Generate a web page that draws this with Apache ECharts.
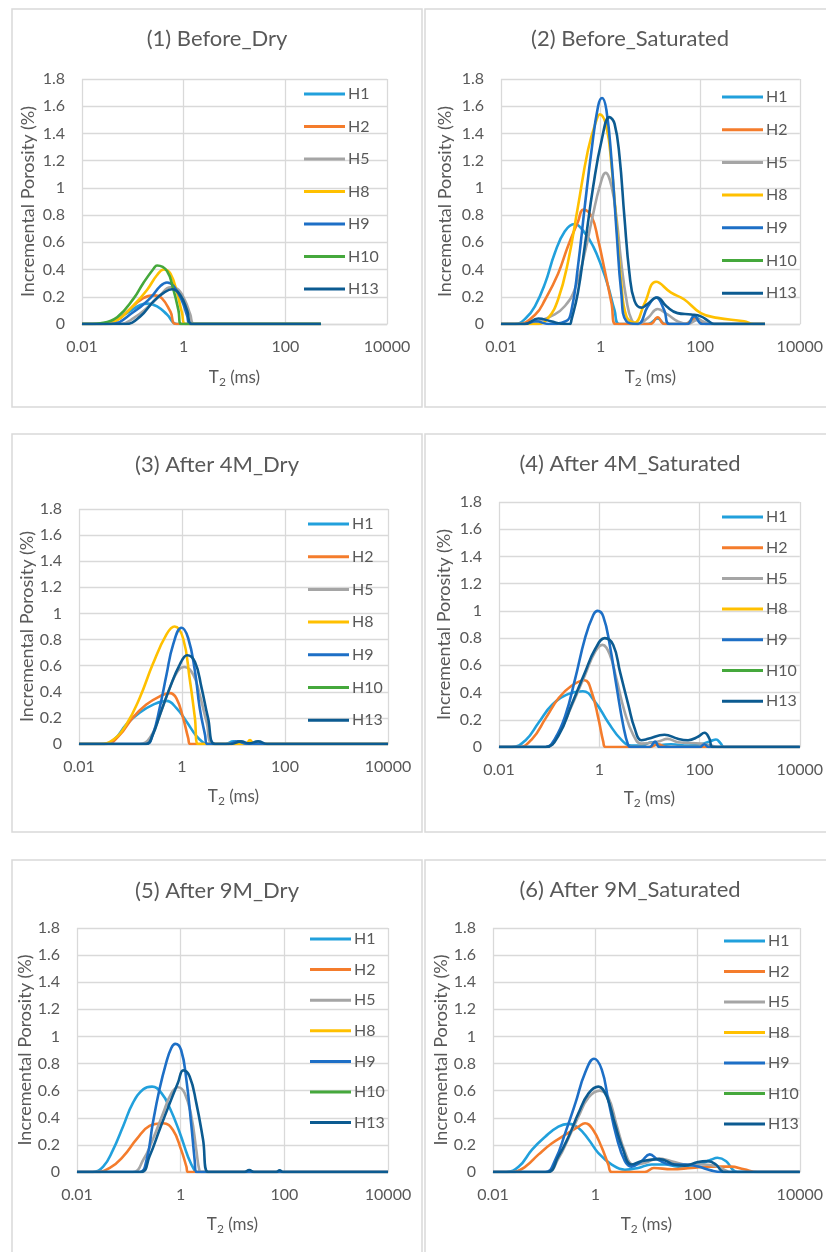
<!DOCTYPE html>
<html>
<head>
<meta charset="utf-8">
<script src="https://cdn.jsdelivr.net/npm/echarts@6/dist/echarts.min.js"></script>
<style>
  html, body { margin: 0; padding: 0; background: #ffffff; }
  #chart { width: 826px; height: 1252px; }
</style>
</head>
<body>
<div id="chart"></div>
<script>
// ---- T2 distributions: [T2 (ms), incremental porosity (%)] per sample and condition ----
const sampleNames = ['H1', 'H2', 'H5', 'H8', 'H9', 'H10', 'H13'];
const panelTitles = ['(1) Before_Dry', '(2) Before_Saturated', '(3) After 4M_Dry',
  '(4) After 4M_Saturated', '(5) After 9M_Dry', '(6) After 9M_Saturated'];
const xTickValues = [0.01, 1, 100, 10000];
const xTickLabels = ['0.01', '1', '100', '10000'];
const yTickLabels = ['0', '0.2', '0.4', '0.6', '0.8', '1', '1.2', '1.4', '1.6', '1.8'];

// (1) Before_Dry
const p1H1 = [[0.01,0],[0.023,0],[0.077,0.08],[0.14,0.14],[0.2,0.15],[0.3,0.13],[0.47,0.07],[0.74,0],[500,0]];
const p1H2 = [[0.01,0],[0.023,0],[0.05,0.03],[0.077,0.09],[0.16,0.19],[0.26,0.21],[0.37,0.19],[0.55,0.09],[0.72,0],[500,0]];
const p1H5 = [[0.01,0],[0.056,0],[0.105,0.045],[0.22,0.14],[0.35,0.215],[0.55,0.27],[0.74,0.26],[1.07,0.17],[1.35,0.07],[1.63,0],[500,0]];
const p1H8 = [[0.01,0],[0.027,0],[0.05,0.03],[0.105,0.14],[0.19,0.25],[0.3,0.36],[0.41,0.4],[0.55,0.37],[0.74,0.23],[0.93,0.08],[1.07,0],[500,0]];
const p1H9 = [[0.01,0],[0.036,0],[0.105,0.09],[0.22,0.19],[0.35,0.28],[0.47,0.305],[0.63,0.28],[0.93,0.17],[1.17,0.06],[1.35,0],[500,0]];
const p1H10 = [[0.01,0],[0.016,0],[0.023,0.005],[0.049,0.05],[0.105,0.19],[0.16,0.3],[0.26,0.41],[0.3,0.43],[0.47,0.39],[0.63,0.25],[0.79,0.1],[0.89,0],[500,0]];
const p1H13 = [[0.01,0],[0.071,0],[0.14,0.056],[0.26,0.17],[0.41,0.23],[0.59,0.255],[0.85,0.215],[1.17,0.1],[1.45,0],[500,0]];

// (2) Before_Saturated
const p2H1 = [[0.01,0],[0.019,0],[0.031,0.04],[0.048,0.13],[0.077,0.3],[0.12,0.52],[0.19,0.68],[0.3,0.735],[0.48,0.67],[0.71,0.57],[1.05,0.42],[1.41,0.28],[1.91,0.1],[2.4,0],[9,0],[14,0.04],[20,0],[50,0],[80,0.05],[130,0],[2000,0]];
const p2H2 = [[0.01,0],[0.022,0],[0.049,0.07],[0.077,0.18],[0.14,0.37],[0.22,0.57],[0.35,0.75],[0.45,0.84],[0.66,0.79],[0.89,0.62],[1.2,0.4],[1.66,0.15],[2.0,0],[10,0],[14,0.05],[19,0],[50,0],[80,0.04],[130,0],[2000,0]];
const p2H5 = [[0.01,0],[0.03,0],[0.056,0.02],[0.12,0.07],[0.19,0.13],[0.3,0.25],[0.48,0.52],[0.71,0.81],[0.96,1.01],[1.26,1.11],[1.66,1.01],[2.1,0.77],[2.6,0.45],[3.3,0.18],[4.2,0.03],[5.6,0],[8.9,0.045],[14,0.11],[22,0.07],[35,0.02],[56,0],[89,0.03],[163,0],[2000,0]];
const p2H8 = [[0.01,0],[0.056,0],[0.089,0.045],[0.14,0.18],[0.22,0.45],[0.35,0.86],[0.56,1.28],[0.83,1.5],[0.96,1.54],[1.31,1.45],[1.66,1.16],[2.1,0.72],[2.6,0.3],[3.3,0.056],[4.8,0.01],[7.6,0.15],[13,0.31],[26,0.23],[48,0.18],[103,0.08],[222,0.045],[760,0.02],[1200,0],[2000,0]];
const p2H9 = [[0.01,0],[0.03,0],[0.05,0.02],[0.09,0],[0.2,0.02],[0.26,0.1],[0.35,0.42],[0.48,0.86],[0.66,1.28],[0.89,1.6],[1.07,1.66],[1.31,1.57],[1.66,1.2],[2.1,0.67],[2.6,0.23],[3.3,0.02],[5.6,0],[8.9,0.13],[13,0.195],[19,0.1],[24,0],[55,0],[76,0.06],[110,0],[2000,0]];
const p2H10 = [];
const p2H13 = [[0.01,0],[0.03,0],[0.056,0.04],[0.1,0.02],[0.19,0],[0.24,0],[0.26,0.03],[0.35,0.23],[0.48,0.57],[0.71,1.01],[1.05,1.35],[1.51,1.52],[1.91,1.47],[2.4,1.23],[3.0,0.79],[3.8,0.37],[4.8,0.17],[6.6,0.12],[8.3,0.14],[13.7,0.195],[21,0.13],[35,0.08],[66,0.07],[103,0.056],[150,0.02],[190,0],[2000,0]];

// (3) After 4M_Dry
const p3H1 = [[0.01,0],[0.03,0],[0.05,0.04],[0.083,0.15],[0.15,0.24],[0.27,0.3],[0.5,0.33],[0.78,0.275],[1.23,0.17],[1.91,0.06],[2.6,0.01],[3.0,0],[7,0],[10,0.02],[14,0],[10000,0]];
const p3H2 = [[0.01,0],[0.034,0],[0.062,0.07],[0.11,0.2],[0.2,0.3],[0.37,0.365],[0.58,0.39],[0.78,0.35],[1.05,0.2],[1.32,0.045],[1.45,0],[10000,0]];
const p3H5 = [[0.01,0],[0.15,0],[0.24,0.05],[0.37,0.22],[0.58,0.43],[0.83,0.56],[1.12,0.59],[1.66,0.53],[2.2,0.38],[3.0,0.17],[4.1,0],[10000,0]];
const p3H8 = [[0.01,0],[0.025,0],[0.046,0.033],[0.083,0.15],[0.15,0.35],[0.27,0.61],[0.5,0.84],[0.72,0.9],[1.05,0.81],[1.41,0.5],[1.78,0.2],[2.05,0],[17,0],[21,0.03],[25,0],[10000,0]];
const p3H9 = [[0.01,0],[0.2,0],[0.27,0.07],[0.37,0.28],[0.5,0.53],[0.67,0.76],[0.98,0.89],[1.32,0.81],[1.78,0.56],[2.2,0.28],[2.8,0.07],[3.1,0],[8,0],[12,0.02],[18,0],[10000,0]];
const p3H10 = [];
const p3H13 = [[0.01,0],[0.2,0],[0.27,0.07],[0.37,0.22],[0.58,0.43],[0.91,0.61],[1.26,0.68],[1.78,0.63],[2.4,0.43],[3.2,0.2],[4.4,0],[9,0],[14,0.02],[20,0.005],[30,0.02],[45,0],[10000,0]];

// (4) After 4M_Saturated
const p4H1 = [[0.01,0],[0.018,0],[0.034,0.05],[0.062,0.18],[0.115,0.31],[0.245,0.39],[0.47,0.41],[0.83,0.33],[1.51,0.18],[2.8,0.05],[4.4,0.01],[7,0.01],[11,0.035],[17,0.015],[27,0.02],[60,0.01],[107,0.02],[170,0.045],[213,0.055],[260,0.03],[310,0],[10000,0]];
const p4H2 = [[0.01,0],[0.025,0],[0.046,0.06],[0.085,0.21],[0.155,0.36],[0.28,0.45],[0.51,0.49],[0.71,0.4],[0.96,0.21],[1.2,0.04],[1.34,0],[10,0],[15,0.02],[22,0],[10000,0]];
const p4H5 = [[0.01,0],[0.085,0],[0.155,0.1],[0.28,0.3],[0.52,0.53],[0.83,0.7],[1.15,0.75],[1.62,0.68],[2.2,0.5],[3.2,0.26],[4.8,0.086],[6.9,0.025],[15,0.04],[23,0.06],[37,0.035],[107,0.025],[170,0.01],[230,0],[10000,0]];
const p4H8 = [];
const p4H9 = [[0.01,0],[0.085,0],[0.13,0.06],[0.21,0.23],[0.33,0.5],[0.52,0.8],[0.76,0.97],[0.93,1.0],[1.2,0.96],[1.62,0.75],[2.2,0.45],[3.0,0.16],[3.8,0.01],[4.3,0],[10,0],[13,0.04],[16,0],[100,0],[125,0.02],[150,0],[10000,0]];
const p4H10 = [];
const p4H13 = [[0.01,0],[0.085,0],[0.155,0.086],[0.28,0.31],[0.52,0.55],[0.83,0.72],[1.29,0.8],[1.9,0.75],[2.6,0.55],[3.8,0.31],[5.1,0.135],[6.9,0.05],[9.4,0.06],[20,0.09],[37,0.06],[59,0.05],[93,0.075],[126,0.105],[158,0.06],[183,0],[10000,0]];

// (5) After 9M_Dry
const p5H1 = [[0.01,0],[0.02,0],[0.032,0.04],[0.049,0.16],[0.078,0.34],[0.12,0.51],[0.19,0.61],[0.28,0.63],[0.43,0.58],[0.62,0.47],[0.96,0.29],[1.38,0.115],[1.86,0.01],[2.1,0],[10000,0]];
const p5H2 = [[0.01,0],[0.023,0],[0.043,0.03],[0.078,0.115],[0.14,0.24],[0.25,0.34],[0.46,0.36],[0.71,0.31],[1.02,0.165],[1.29,0.04],[1.38,0],[10000,0]];
const p5H5 = [[0.01,0],[0.12,0],[0.19,0.09],[0.29,0.24],[0.46,0.435],[0.66,0.58],[0.89,0.625],[1.2,0.58],[1.61,0.41],[2.0,0.165],[2.3,0.01],[2.5,0],[10000,0]];
const p5H8 = [];
const p5H9 = [[0.01,0],[0.16,0],[0.22,0.09],[0.29,0.36],[0.39,0.61],[0.52,0.8],[0.66,0.915],[0.79,0.945],[1.02,0.9],[1.29,0.68],[1.61,0.34],[1.86,0.09],[2.0,0],[10000,0]];
const p5H10 = [];
const p5H13 = [[0.01,0],[0.17,0],[0.25,0.115],[0.39,0.31],[0.62,0.51],[0.89,0.66],[1.12,0.75],[1.49,0.705],[2.0,0.51],[2.7,0.24],[3.4,0],[17,0],[21,0.015],[26,0],[70,0],[81,0.012],[95,0],[10000,0]];

// (6) After 9M_Saturated
const p6H1 = [[0.01,0],[0.018,0],[0.032,0.04],[0.058,0.165],[0.105,0.26],[0.19,0.335],[0.3,0.355],[0.47,0.325],[0.74,0.24],[1.15,0.14],[2.1,0.055],[3.8,0.017],[6.9,0.03],[12.6,0.055],[23,0.055],[42,0.04],[102,0.055],[182,0.09],[245,0.105],[363,0.08],[490,0.017],[603,0],[10000,0]];
const p6H2 = [[0.01,0],[0.024,0],[0.043,0.04],[0.078,0.13],[0.14,0.21],[0.26,0.275],[0.47,0.335],[0.63,0.36],[0.91,0.31],[1.34,0.18],[1.8,0.055],[2.1,0],[9.3,0],[14,0.03],[31,0.02],[76,0.03],[182,0.04],[447,0.04],[813,0.02],[1480,0],[10000,0]];
const p6H5 = [[0.01,0],[0.115,0],[0.19,0.1],[0.3,0.25],[0.47,0.41],[0.74,0.55],[1.23,0.6],[1.8,0.55],[2.6,0.35],[3.8,0.15],[5.5,0.055],[9.3,0.066],[17,0.1],[31,0.08],[65,0.055],[135,0.055],[245,0.04],[363,0.01],[420,0],[10000,0]];
const p6H8 = [];
const p6H9 = [[0.01,0],[0.105,0],[0.165,0.09],[0.26,0.29],[0.41,0.51],[0.63,0.73],[0.95,0.835],[1.34,0.755],[1.8,0.53],[2.6,0.26],[3.8,0.08],[5.1,0.04],[8,0.08],[11.6,0.13],[17,0.09],[31,0.055],[56,0.055],[102,0.04],[182,0.012],[288,0],[10000,0]];
const p6H10 = [];
const p6H13 = [[0.01,0],[0.115,0],[0.19,0.115],[0.3,0.26],[0.47,0.435],[0.74,0.58],[1.15,0.63],[1.66,0.56],[2.4,0.36],[3.5,0.165],[5.1,0.055],[8,0.08],[18,0.095],[35,0.055],[56,0.047],[102,0.074],[158,0.08],[229,0.055],[288,0.012],[331,0],[10000,0]];

const panelData = [
  [p1H1, p1H2, p1H5, p1H8, p1H9, p1H10, p1H13],
  [p2H1, p2H2, p2H5, p2H8, p2H9, p2H10, p2H13],
  [p3H1, p3H2, p3H5, p3H8, p3H9, p3H10, p3H13],
  [p4H1, p4H2, p4H5, p4H8, p4H9, p4H10, p4H13],
  [p5H1, p5H2, p5H5, p5H8, p5H9, p5H10, p5H13],
  [p6H1, p6H2, p6H5, p6H8, p6H9, p6H10, p6H13]
];

// ---- styling and layout ----
const sampleColors = ['#21A0DC', '#F47C2C', '#A5A5A5', '#FFC000', '#1D6FC6', '#45A83C', '#0C5B91'];
const FONT = 'Lato, "Open Sans", sans-serif';
const TEXT = '#595959';
const GRIDLINE = '#d9d9d9';

// box: panel frame [x, y, w, h]; grid: plot area; title: centre; legend: [left, top, gap]; gaps: [yName, xName]
const layout = [
  { box: [12, 9, 410, 398],  grid: [82, 79, 305, 245],  title: [217, 39],  legend: [304, 86, 16.5], gaps: [45, 43] },
  { box: [425, 9, 410, 398], grid: [501, 79, 300, 245], title: [630, 39],  legend: [722, 89, 16.7], gaps: [47, 43] },
  { box: [12, 434, 410, 398], grid: [79, 509, 309, 235], title: [217, 465], legend: [308, 516, 16.7], gaps: [42, 42] },
  { box: [425, 434, 410, 398], grid: [499, 502, 302, 245], title: [630, 464], legend: [722, 509, 14.7], gaps: [46, 41] },
  { box: [12, 860, 410, 420], grid: [77, 928, 311, 244], title: [217, 891], legend: [310, 931, 14.6], gaps: [40, 42] },
  { box: [425, 860, 410, 420], grid: [493, 928, 308, 244], title: [630, 890], legend: [724, 933, 14.5], gaps: [42, 42] }
];

function xLabel(v) {
  const k = xTickValues.findIndex(t => Math.abs(Math.log10(t) - Math.log10(v)) < 1e-6);
  return k >= 0 ? xTickLabels[k] : '';
}
function yLabel(v) {
  const k = Math.round(v / 0.2);
  return yTickLabels[k] !== undefined ? yTickLabels[k] : '';
}

const grids = [], xAxes = [], yAxes = [], legends = [], series = [], graphics = [];

layout.forEach((L, i) => {
  graphics.push({
    type: 'rect', silent: true, z: -10,
    shape: { x: L.box[0], y: L.box[1], width: L.box[2], height: L.box[3] },
    style: { fill: '#ffffff', stroke: GRIDLINE, lineWidth: 1.5 }
  });
  graphics.push({
    type: 'text', silent: true, x: L.title[0], y: L.title[1],
    style: { text: panelTitles[i], fontFamily: FONT, fontSize: 22, fill: TEXT, align: 'center', verticalAlign: 'middle' }
  });

  grids.push({ left: L.grid[0], top: L.grid[1], width: L.grid[2], height: L.grid[3], containLabel: false });

  xAxes.push({
    type: 'log', logBase: 100, gridIndex: i,
    min: xTickValues[0], max: xTickValues[xTickValues.length - 1],
    axisLine: { show: true, lineStyle: { color: GRIDLINE, width: 1.3 } },
    axisTick: { show: false },
    minorTick: { show: false },
    splitLine: { show: true, lineStyle: { color: GRIDLINE, width: 1.3 } },
    axisLabel: { formatter: xLabel, fontFamily: FONT, fontSize: 16, color: TEXT, margin: 15 },
    name: 'T{sub|2} (ms)', nameLocation: 'middle', nameGap: L.gaps[1],
    nameTextStyle: { fontFamily: FONT, fontSize: 17, color: TEXT,
      rich: { sub: { fontFamily: FONT, fontSize: 12, color: TEXT, padding: [9, 0, 0, 0] } } }
  });

  yAxes.push({
    type: 'value', gridIndex: i, min: 0, max: 1.8, interval: 0.2,
    axisLine: { show: false }, axisTick: { show: false },
    splitLine: { show: true, lineStyle: { color: GRIDLINE, width: 1.3 } },
    axisLabel: { formatter: yLabel, fontFamily: FONT, fontSize: 16, color: TEXT, margin: 17 },
    name: 'Incremental Porosity (%)', nameLocation: 'middle', nameGap: L.gaps[0],
    nameTextStyle: { fontFamily: FONT, fontSize: 18, color: TEXT }
  });

  legends.push({
    data: sampleNames, orient: 'vertical', left: L.legend[0], top: L.legend[1], itemGap: L.legend[2],
    padding: 0, icon: 'rect', itemWidth: 41, itemHeight: 3, selectedMode: false,
    textStyle: { fontFamily: FONT, fontSize: 16, color: TEXT, lineHeight: 15, padding: [0, 0, 0, -2] }
  });

  panelData[i].forEach((data, j) => {
    series.push({
      type: 'line', name: sampleNames[j], xAxisIndex: i, yAxisIndex: i,
      data: data, smooth: 0.45, symbol: 'none', showSymbol: false, clip: true,
      lineStyle: { width: 2.6, color: sampleColors[j] },
      itemStyle: { color: sampleColors[j] },
      emphasis: { disabled: true }, z: 2 + j * 0.01
    });
  });
});

const chart = echarts.init(document.getElementById('chart'), null, { renderer: 'canvas' });
chart.setOption({
  animation: false,
  backgroundColor: '#ffffff',
  graphic: graphics,
  grid: grids,
  xAxis: xAxes,
  yAxis: yAxes,
  legend: legends,
  series: series
});
</script>
</body>
</html>
